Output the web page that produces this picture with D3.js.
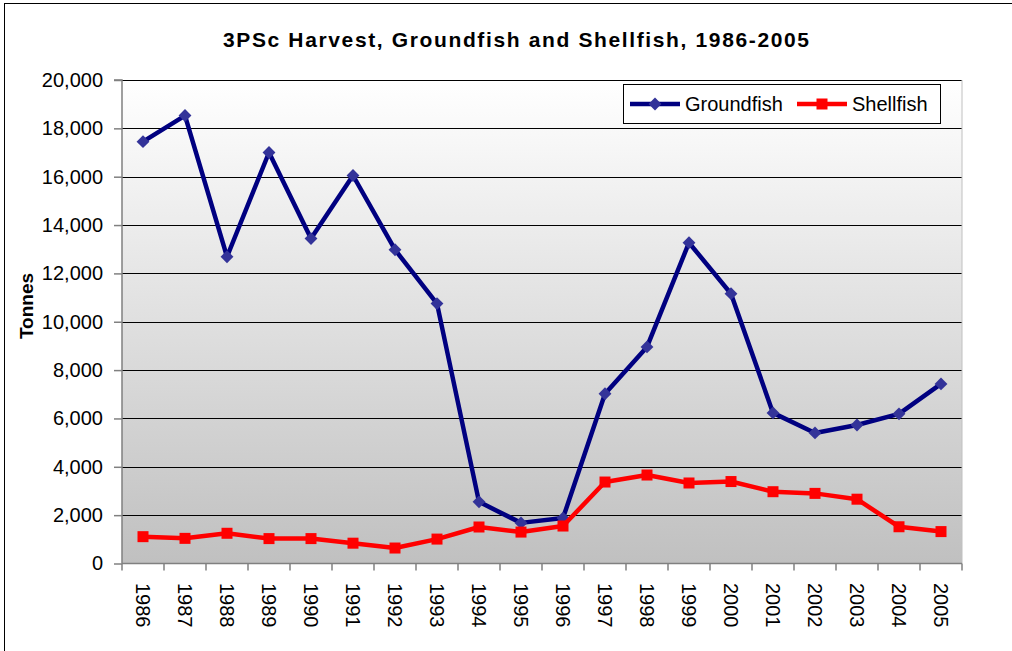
<!DOCTYPE html>
<html>
<head>
<meta charset="utf-8">
<script src="https://cdn.jsdelivr.net/npm/d3@7"></script>
<style>
  body { margin: 0; background: #fff; }
  text { font-family: Arial, "Liberation Sans", sans-serif; }
</style>
</head>
<body>
<svg id="chart" width="1012" height="651"></svg>
<script>
var years = ["1986","1987","1988","1989","1990","1991","1992","1993","1994","1995",
             "1996","1997","1998","1999","2000","2001","2002","2003","2004","2005"];
var groundfish = [17450, 18530, 12690, 17000, 13440, 16050, 12980, 10750, 2550, 1680,
                  1880, 7020, 8960, 13270, 11160, 6230, 5400, 5730, 6190, 7430];
var shellfish = [1110, 1040, 1250, 1030, 1030, 840, 640, 1010, 1510, 1300,
                 1550, 3370, 3660, 3330, 3390, 2970, 2900, 2660, 1520, 1320];
var yTicks = [0, 2000, 4000, 6000, 8000, 10000, 12000, 14000, 16000, 18000, 20000];

var svg = d3.select("#chart");
var margin = { left: 122, right: 962, top: 80, bottom: 563.5 };

// outer frame
svg.append("rect")
    .attr("x", 4.5).attr("y", 3.5)
    .attr("width", 1020).attr("height", 660)
    .attr("fill", "none").attr("stroke", "#000").attr("stroke-width", 1);

var defs = svg.append("defs");
var grad = defs.append("linearGradient")
    .attr("id", "bg").attr("x1", 0).attr("y1", 0).attr("x2", 0).attr("y2", 1);
grad.append("stop").attr("offset", "0%").attr("stop-color", "#ffffff");
grad.append("stop").attr("offset", "100%").attr("stop-color", "#c0c0c0");

var x = d3.scaleBand().domain(years).range([margin.left, margin.right]);
var y = d3.scaleLinear().domain([0, 20000]).range([margin.bottom, margin.top]);

svg.append("rect")
    .attr("x", margin.left).attr("y", margin.top)
    .attr("width", margin.right - margin.left)
    .attr("height", margin.bottom - margin.top)
    .attr("fill", "url(#bg)");

// gridlines
svg.append("g").selectAll("line")
    .data(yTicks.filter(function(d) { return d > 0; }))
    .enter().append("line")
      .attr("x1", margin.left).attr("x2", margin.right)
      .attr("y1", function(d) { return Math.round(y(d)) + 0.5; })
      .attr("y2", function(d) { return Math.round(y(d)) + 0.5; })
      .attr("stroke", "#000").attr("stroke-width", 1);

svg.append("line")
    .attr("x1", margin.right).attr("x2", margin.right)
    .attr("y1", margin.top).attr("y2", margin.bottom)
    .attr("stroke", "#c0c0c0");

// y axis
var yAxis = svg.append("g")
    .attr("transform", "translate(" + margin.left + ",0)")
    .call(d3.axisLeft(y).tickValues(yTicks).tickSize(8).tickPadding(11)
      .tickFormat(d3.format(",d")));
yAxis.selectAll("text").attr("font-size", 20).attr("fill", "#000")
    .style("font-family", "Arial, 'Liberation Sans', sans-serif");
yAxis.selectAll("line, path").attr("stroke", "#808080").attr("stroke-width", 1.5);
yAxis.select(".domain").attr("d", "M-8," + margin.top + "H0V" + margin.bottom);

// x axis
var xAxis = svg.append("g")
    .attr("transform", "translate(0," + margin.bottom + ")");
xAxis.append("line")
    .attr("x1", margin.left).attr("x2", margin.right)
    .attr("stroke", "#808080").attr("stroke-width", 1.5);
xAxis.selectAll("line.tick")
    .data(years.concat(["end"]))
    .enter().append("line")
      .attr("class", "tick")
      .attr("x1", function(d, i) { return margin.left + i * x.step(); })
      .attr("x2", function(d, i) { return margin.left + i * x.step(); })
      .attr("y1", 0).attr("y2", 7)
      .attr("stroke", "#808080").attr("stroke-width", 1.5);
xAxis.selectAll("text")
    .data(years)
    .enter().append("text")
      .attr("transform", function(d) {
        return "translate(" + (x(d) + x.bandwidth() / 2 - 7.5) + ",19.5) rotate(90)";
      })
      .attr("font-size", 20)
      .attr("text-anchor", "start")
      .text(function(d) { return d; });

// title and axis label
svg.append("text")
    .attr("x", 516).attr("y", 47)
    .attr("text-anchor", "middle")
    .attr("font-size", 21).attr("font-weight", "bold")
    .attr("textLength", 586).attr("lengthAdjust", "spacing")
    .text("3PSc Harvest, Groundfish and Shellfish, 1986-2005");

svg.append("text")
    .attr("transform", "translate(33,306) rotate(-90)")
    .attr("text-anchor", "middle")
    .attr("font-size", 19).attr("font-weight", "bold")
    .text("Tonnes");

// series
var line = d3.line()
    .x(function(d, i) { return x(years[i]) + x.bandwidth() / 2; })
    .y(function(d) { return y(d); });

svg.append("path").datum(groundfish)
    .attr("d", line).attr("fill", "none")
    .attr("stroke", "#000080").attr("stroke-width", 4.5)
    .attr("stroke-linejoin", "round");

svg.append("g").selectAll("path")
    .data(groundfish)
    .enter().append("path")
      .attr("d", d3.symbol(d3.symbolDiamond2, 105))
      .attr("transform", function(d, i) {
        return "translate(" + (x(years[i]) + x.bandwidth() / 2) + "," + y(d) + ")";
      })
      .attr("fill", "#333399");

svg.append("path").datum(shellfish)
    .attr("d", line).attr("fill", "none")
    .attr("stroke", "#ff0000").attr("stroke-width", 4.5)
    .attr("stroke-linejoin", "round");

svg.append("g").selectAll("rect")
    .data(shellfish)
    .enter().append("rect")
      .attr("x", function(d, i) { return x(years[i]) + x.bandwidth() / 2 - 5.5; })
      .attr("y", function(d) { return y(d) - 5.5; })
      .attr("width", 11).attr("height", 11)
      .attr("fill", "#ff0000");

// legend
var legend = svg.append("g");
legend.append("rect")
    .attr("x", 623.5).attr("y", 84.5).attr("width", 317).attr("height", 39)
    .attr("fill", "#fff").attr("stroke", "#000").attr("stroke-width", 1);

var legendItems = [
  { name: "Groundfish", color: "#000080", marker: "#333399", x: 630, shape: "diamond" },
  { name: "Shellfish", color: "#ff0000", marker: "#ff0000", x: 797, shape: "square" }
];
legendItems.forEach(function(d) {
  legend.append("line")
      .attr("x1", d.x).attr("x2", d.x + 50)
      .attr("y1", 104).attr("y2", 104)
      .attr("stroke", d.color).attr("stroke-width", 4.5);
  if (d.shape == "diamond") {
    legend.append("path")
        .attr("d", d3.symbol(d3.symbolDiamond2, 105))
        .attr("transform", "translate(" + (d.x + 25) + ",104)")
        .attr("fill", d.marker);
  } else {
    legend.append("rect")
        .attr("x", d.x + 19.5).attr("y", 98.5).attr("width", 11).attr("height", 11)
        .attr("fill", d.marker);
  }
  legend.append("text")
      .attr("x", d.x + 55).attr("y", 111)
      .attr("font-size", 20)
      .text(d.name);
});
</script>
</body>
</html>
